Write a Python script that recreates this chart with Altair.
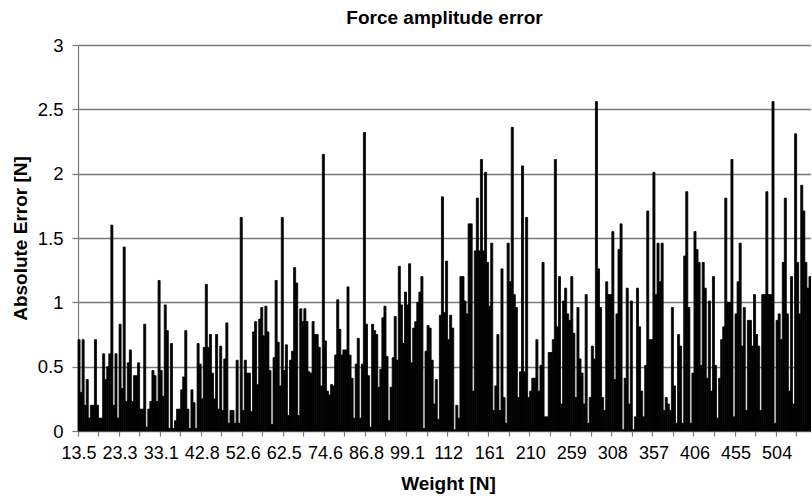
import altair as alt
import pandas as pd

# Absolute force-amplitude error per weight step, 357 visible bars
errors = [
    0.71, 0.30, 0.71, 0.20, 0.40, 0.10, 0.20, 0.20, 0.71, 0.20,
    0.10, 0.10, 0.60, 0.40, 0.50, 0.60, 1.60, 0.20, 0.60, 0.10,
    0.83, 0.33, 1.43, 0.23, 0.53, 0.63, 0.23, 0.43, 0.43, 0.53,
    0.17, 0.17, 0.83, 0.03, 0.17, 0.23, 0.47, 0.43, 0.23, 1.17,
    0.47, 0.27, 0.98, 0.78, 0.02, 0.68, 0.02, 0.08, 0.17, 0.17,
    0.32, 0.42, 0.78, 0.17, 0.02, 0.32, 0.22, 0.02, 0.68, 0.52,
    0.25, 0.65, 1.14, 0.65, 0.75, 0.45, 0.25, 0.75, 0.17, 0.66,
    0.16, 0.56, 0.84, 0.06, 0.16, 0.16, 0.06, 0.55, 0.06, 1.66,
    0.16, 0.55, 0.45, 0.45, 0.15, 0.77, 0.85, 0.36, 0.87, 0.96,
    0.74, 0.97, 0.77, 0.47, 0.05, 0.57, 1.17, 0.69, 0.35, 1.66,
    0.47, 0.67, 0.12, 0.55, 0.62, 1.27, 1.15, 0.12, 0.95, 0.85,
    0.95, 0.85, 0.46, 0.45, 0.85, 0.75, 0.75, 0.65, 0.35, 2.15,
    0.70, 0.31, 0.28, 0.36, 0.35, 0.59, 1.02, 0.79, 0.59, 0.63,
    0.63, 1.12, 0.59, 0.41, 0.10, 0.52, 0.72, 0.10, 0.52, 2.32,
    0.83, 0.43, 0.03, 0.83, 0.78, 0.75, 0.34, 0.48, 0.88, 0.97,
    0.58, 0.08, 0.34, 0.57, 0.89, 0.55, 1.28, 0.98, 0.68, 1.08,
    0.98, 1.30, 0.53, 0.80, 0.85, 1.00, 1.08, 1.20, 0.02, 0.62,
    0.82, 0.80, 0.55, 0.21, 0.40, 0.09, 0.90, 1.82, 0.92, 1.32,
    0.71, 0.90, 0.80, 0.01, 0.20, 0.10, 1.20, 1.20, 1.01, 0.91,
    1.61, 1.61, 0.31, 1.40, 1.81, 1.40, 2.11, 1.40, 2.01, 1.31,
    0.97, 1.46, 0.16, 0.35, 0.75, 0.16, 1.26, 0.26, 0.06, 1.46,
    1.16, 2.36, 1.06, 0.96, 0.26, 0.46, 2.06, 0.46, 1.66, 0.26,
    0.31, 0.41, 0.41, 0.71, 0.31, 0.51, 1.31, 0.11, 0.11, 0.61,
    0.61, 0.71, 2.11, 0.81, 1.20, 0.21, 1.01, 1.11, 0.91, 0.86,
    1.20, 0.76, 0.26, 0.96, 0.56, 0.45, 0.21, 1.06, 0.06, 0.26,
    0.66, 0.56, 2.56, 1.26, 0.96, 0.26, 0.16, 1.16, 1.06, 1.06,
    1.55, 0.40, 0.91, 1.41, 1.61, 0.01, 0.41, 1.11, 0.21, 1.01,
    0.01, 0.11, 1.11, 0.81, 0.31, 0.11, 0.51, 1.71, 0.71, 0.71,
    2.01, 1.06, 1.46, 1.16, 1.46, 0.16, 0.26, 0.21, 0.16, 0.96,
    0.35, 0.06, 0.75, 0.66, 0.06, 1.36, 1.86, 0.96, 0.06, 0.45,
    1.55, 1.41, 1.31, 0.51, 1.31, 1.11, 0.41, 1.01, 0.31, 1.20,
    0.51, 0.10, 0.41, 0.71, 0.81, 1.81, 1.00, 1.00, 2.11, 0.11,
    0.91, 1.16, 1.46, 0.66, 0.96, 0.16, 0.86, 0.86, 0.66, 1.06,
    0.75, 0.66, 0.16, 1.06, 1.06, 1.86, 1.06, 1.06, 2.56, 0.06,
    0.86, 0.91, 0.71, 1.31, 1.81, 0.91, 0.31, 1.20, 0.21, 2.31,
    1.31, 0.91, 1.91, 1.71, 1.31, 1.11, 1.20,
]

# Category labels shown on the x axis (every 20th weight step)
weight_labels = ["13.5", "23.3", "33.1", "42.8", "52.6", "62.5", "74.6", "86.8",
                 "99.1", "112", "161", "210", "259", "308", "357", "406", "455", "504"]
label_step = 20
tick_step = 10
y_ticks = [0, 0.5, 1, 1.5, 2, 2.5, 3]

df = pd.DataFrame({"idx": list(range(len(errors))), "err": errors})

label_js = "[" + ",".join("'" + s + "'" for s in weight_labels) + "]"
label_expr = ("datum.value % " + str(label_step) + " == 0 ? " + label_js +
              "[datum.value / " + str(label_step) + "] : ''")

FONT = "Liberation Sans"
GRAY = "#7a7a7a"

x = alt.X(
    "idx:O",
    title="Weight [N]",
    scale=alt.Scale(paddingInner=0.0, paddingOuter=0),
    axis=alt.Axis(
        values=list(range(0, len(errors), tick_step)),
        labelExpr=label_expr,
        bandPosition=0,
        labelAngle=0,
        labelOverlap=False,
        labelFlush=False,
        labelFont=FONT,
        labelFontSize=18,
        labelColor="black",
        labelPadding=8,
        tickSize=5,
        tickColor=GRAY,
        tickWidth=1.2,
        domainColor=GRAY,
        domainWidth=1.2,
        titleFont=FONT,
        titleFontSize=19,
        titleFontWeight="bold",
        titleColor="black",
        titleX=370,
        titleY=52,
        titleAlign="center",
        titleBaseline="middle",
        grid=False,
    ),
)

y = alt.Y(
    "err:Q",
    title="Absolute Error [N]",
    scale=alt.Scale(domain=[0, 3], nice=False, zero=True),
    axis=alt.Axis(
        values=y_ticks,
        format=".1~f",
        labelFont=FONT,
        labelFontSize=18.5,
        labelColor="black",
        labelPadding=9,
        tickSize=6,
        tickColor=GRAY,
        tickWidth=1.2,
        domainColor=GRAY,
        domainWidth=1.2,
        grid=True,
        gridColor=GRAY,
        gridWidth=1.3,
        titleFont=FONT,
        titleFontSize=19,
        titleFontWeight="bold",
        titleColor="black",
        titleAngle=270,
        titleX=-58,
        titleY=193,
        titleAlign="center",
        titleBaseline="middle",
    ),
)

chart = (
    alt.Chart(df)
    .mark_bar(color="black", stroke="black", strokeWidth=0.8)
    .encode(x=x, y=y)
    .properties(
        width=733,
        height=386,
        autosize=alt.AutoSizeParams(type="none"),
        padding={"left": 78, "top": 45, "right": 0, "bottom": 71},
        title=alt.TitleParams(
            "Force amplitude error",
            font=FONT,
            fontSize=19,
            fontWeight="bold",
            color="black",
            anchor="middle",
            offset=8,
        ),
    )
    .configure_view(stroke=None)
    .configure(background="white")
)

chart.save("out.html", embed_options={"renderer": "svg", "actions": False})
